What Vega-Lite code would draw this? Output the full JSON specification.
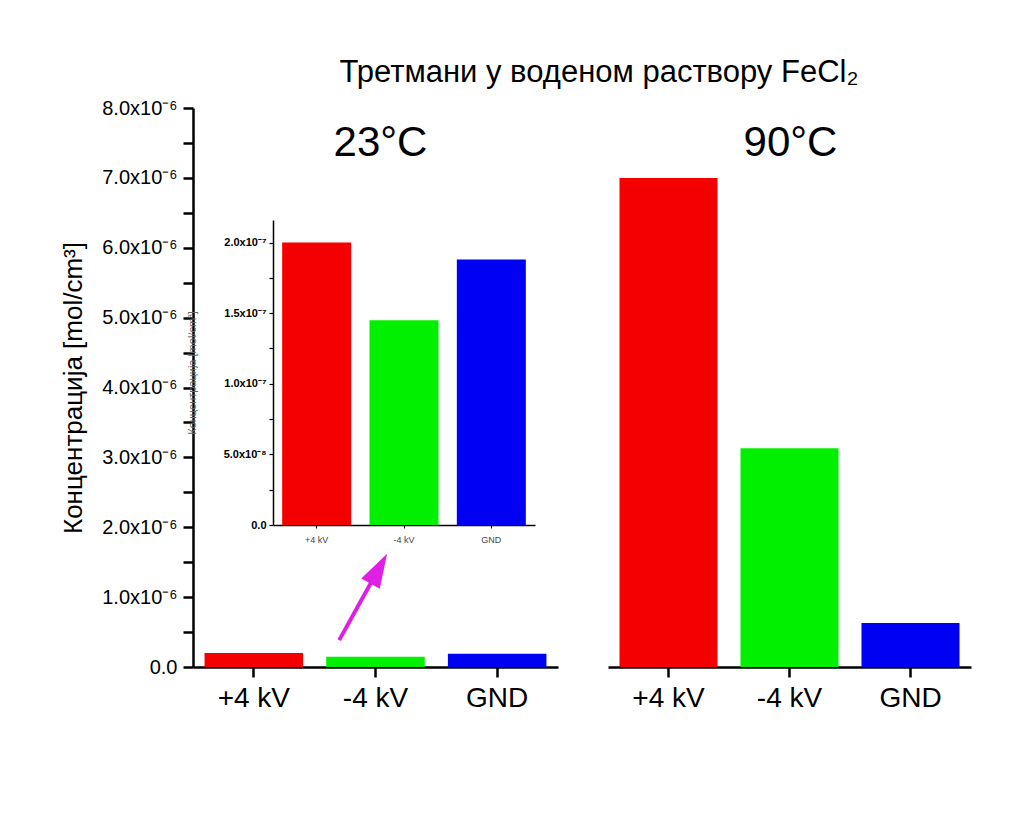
{
  "$schema": "https://vega.github.io/schema/vega-lite/v6.json",
  "width": 778,
  "height": 559,
  "autosize": {"type": "none"},
  "padding": {"left": 193, "top": 108, "right": 53, "bottom": 147},
  "background": "white",
  "config": {
    "view": {"stroke": null},
    "font": "Liberation Sans",
    "axis": {"grid": false, "domainColor": "black", "tickColor": "black", "labelColor": "black", "titleColor": "black", "labelFont": "Liberation Sans", "titleFont": "Liberation Sans"}
  },
  "title": {"text": "Третмани у воденом раствору FeCl₂", "fontSize": 31, "fontWeight": "normal", "font": "Liberation Sans", "dx": 17, "offset": 9, "color": "black"},
  "datasets": {
    "main23": [
      {"treatment": "+4 kV", "conc": 2.0e-7},
      {"treatment": "-4 kV", "conc": 1.45e-7},
      {"treatment": "GND", "conc": 1.88e-7}
    ],
    "main90": [
      {"treatment": "+4 kV", "conc": 7.0e-6},
      {"treatment": "-4 kV", "conc": 3.13e-6},
      {"treatment": "GND", "conc": 6.3e-7}
    ]
  },
  "resolve": {"scale": {"x": "independent", "y": "independent"}, "axis": {"x": "independent", "y": "independent"}},
  "layer": [
    {
      "data": {"name": "main23"},
      "mark": {"type": "bar"},
      "encoding": {
        "x": {"field": "treatment", "type": "nominal", "scale": {"domain": ["+4 kV", "-4 kV", "GND"], "range": [0, 365], "paddingInner": 0.19, "paddingOuter": 0.095},
          "axis": {"orient": "bottom", "title": null, "labelAngle": 0, "labelFontSize": 28, "tickSize": 10, "tickWidth": 2.5, "domainWidth": 2.5, "labelPadding": 7}},
        "y": {"field": "conc", "type": "quantitative", "scale": {"domain": [0, 8e-6], "nice": false},
          "axis": {"orient": "left", "title": "Концентрација [mol/cm³]", "titleFontSize": 26, "titleFontWeight": "normal", "titlePadding": 15,
            "values": [0, 5e-7, 1e-6, 1.5e-6, 2e-6, 2.5e-6, 3e-6, 3.5e-6, 4e-6, 4.5e-6, 5e-6, 5.5e-6, 6e-6, 6.5e-6, 7e-6, 7.5e-6, 8e-6],
            "labelExpr": "abs(datum.value/1e-6 - round(datum.value/1e-6)) > 0.01 ? '' : (datum.value == 0 ? '0.0' : format(datum.value/1e-6, '.1f') + 'x10⁻⁶')",
            "labelFontSize": 20, "labelPadding": 6, "tickSize": 10, "tickWidth": 2.5, "domainWidth": 2.5}},
        "color": {"field": "treatment", "type": "nominal", "scale": {"domain": ["+4 kV", "-4 kV", "GND"], "range": ["#f40000", "#00f000", "#0000f2"]}, "legend": null}
      }
    },
    {
      "data": {"name": "main90"},
      "mark": {"type": "bar"},
      "encoding": {
        "x": {"field": "treatment", "type": "nominal", "scale": {"domain": ["+4 kV", "-4 kV", "GND"], "range": [415, 778], "paddingInner": 0.19, "paddingOuter": 0.095},
          "axis": {"orient": "bottom", "title": null, "labelAngle": 0, "labelFontSize": 28, "tickSize": 10, "tickWidth": 2.5, "domainWidth": 2.5, "labelPadding": 7}},
        "y": {"field": "conc", "type": "quantitative", "scale": {"domain": [0, 8e-6], "nice": false}, "axis": null},
        "color": {"field": "treatment", "type": "nominal", "legend": null}
      }
    },
    {
      "data": {"name": "main23"},
      "mark": {"type": "bar"},
      "encoding": {
        "x": {"field": "treatment", "type": "nominal", "scale": {"domain": ["+4 kV", "-4 kV", "GND"], "range": [80, 342], "paddingInner": 0.21, "paddingOuter": 0.105},
          "axis": {"orient": "bottom", "offset": -142, "title": null, "labelAngle": 0, "labelFontSize": 9, "labelColor": "#444444", "tickSize": 3, "tickWidth": 1, "domainWidth": 1.5, "labelPadding": 7}},
        "y": {"field": "conc", "type": "quantitative", "scale": {"domain": [0, 2.16e-7], "range": [417, 112], "nice": false},
          "axis": {"orient": "left", "offset": -80, "title": "Концентрација [mol/cm³]", "titleFontSize": 11, "titleFontWeight": "normal", "titleColor": "#666666", "titlePadding": 26,
            "values": [0, 2.5e-8, 5e-8, 7.5e-8, 1e-7, 1.25e-7, 1.5e-7, 1.75e-7, 2e-7],
            "labelExpr": "abs(datum.value/5e-8 - round(datum.value/5e-8)) > 0.01 ? '' : (datum.value == 0 ? '0.0' : (datum.value < 9e-8 ? format(datum.value/1e-8, '.1f') + 'x10⁻⁸' : format(datum.value/1e-7, '.1f') + 'x10⁻⁷'))",
            "labelFontSize": 11, "labelFontWeight": "bold", "labelPadding": 3, "tickSize": 4, "tickWidth": 1.2, "domainWidth": 1.5}},
        "color": {"field": "treatment", "type": "nominal", "legend": null}
      }
    },
    {
      "data": {"values": [{}]},
      "mark": {"type": "text", "text": "23°C", "fontSize": 42, "align": "center", "baseline": "alphabetic", "dx": 5, "color": "black"},
      "encoding": {
        "x": {"datum": "-4 kV", "scale": {"type": "point", "domain": ["+4 kV", "-4 kV", "GND"], "range": [0, 365], "padding": 0.5}, "axis": null},
        "y": {"datum": 7.31e-6, "scale": {"domain": [0, 8e-6], "nice": false}, "axis": null}
      }
    },
    {
      "data": {"values": [{}]},
      "mark": {"type": "text", "text": "90°C", "fontSize": 42, "align": "center", "baseline": "alphabetic", "dx": 1, "color": "black"},
      "encoding": {
        "x": {"datum": "-4 kV", "scale": {"type": "point", "domain": ["+4 kV", "-4 kV", "GND"], "range": [415, 778], "padding": 0.5}, "axis": null},
        "y": {"datum": 7.31e-6, "scale": {"domain": [0, 8e-6], "nice": false}, "axis": null}
      }
    },
    {
      "data": {"values": [{}]},
      "mark": {"type": "point", "shape": "M0,1L0,-0.5M-0.17,-0.45L0,-1L0.17,-0.45Z", "size": 8464, "angle": 29, "filled": true, "fill": "#e01fe6", "stroke": "#e01fe6", "strokeWidth": 4, "opacity": 1},
      "encoding": {
        "x": {"datum": "-4 kV", "scale": {"type": "point", "domain": ["+4 kV", "-4 kV", "GND"], "range": [0, 365], "padding": 0.5}, "axis": null},
        "xOffset": {"value": -14},
        "y": {"datum": 9.6e-7, "scale": {"domain": [0, 8e-6], "nice": false}, "axis": null}
      }
    }
  ]
}
